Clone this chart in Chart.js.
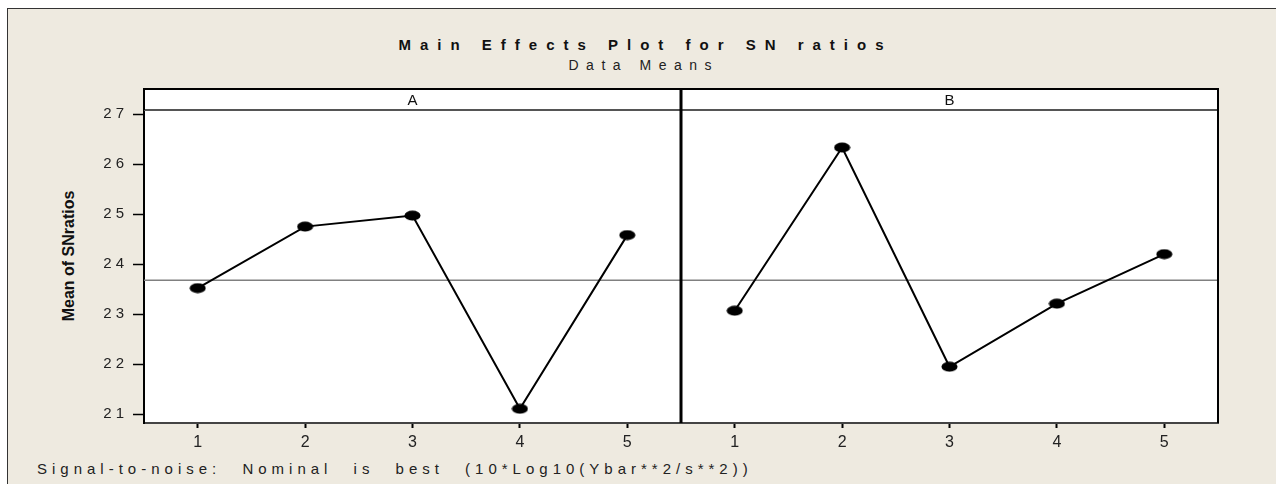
<!DOCTYPE html>
<html lang="en">
  <head>
    <title>Main Effects Plot for SN ratios</title>
    <meta charset="utf-8" />
    <script src="https://cdn.jsdelivr.net/npm/chart.js"></script>
    <style>
      body {
        margin: 0;
        width: 1276px;
        height: 484px;
        overflow: hidden;
        position: relative;
        background: #fff;
        font-family: "Liberation Sans", Arial, sans-serif;
        color: #111;
      }
      .frame {
        position: absolute;
        left: 7px;
        top: 8px;
        width: 1300px;
        height: 500px;
        background: #eeeae0;
        border: 1px solid #333;
      }
      #chart {
        position: absolute;
        left: 0;
        top: 0;
      }
      .title {
        position: absolute;
        left: 641px;
        top: 37px;
        transform: translateX(-50%);
        font-size: 15px;
        line-height: 15px;
        font-weight: bold;
        letter-spacing: 9px;
        padding-left: 9px;
        white-space: nowrap;
      }
      .subtitle {
        position: absolute;
        left: 640px;
        top: 58px;
        transform: translateX(-50%);
        font-size: 14px;
        line-height: 14px;
        letter-spacing: 7.5px;
        padding-left: 7.5px;
        white-space: nowrap;
        color: #222;
      }
      .ytitle {
        position: absolute;
        left: 69px;
        top: 256px;
        transform: translate(-50%, -50%) rotate(-90deg);
        font-size: 16px;
        line-height: 16px;
        font-weight: bold;
        white-space: nowrap;
      }
      .footer {
        position: absolute;
        left: 37px;
        top: 461px;
        font-size: 15px;
        line-height: 15px;
        letter-spacing: 5px;
        word-spacing: 12px;
        white-space: nowrap;
        color: #222;
      }
    </style>
  </head>
  <body>
    <div class="frame"></div>
    <div class="title">Main Effects Plot for SN ratios</div>
    <div class="subtitle">Data Means</div>
    <div class="ytitle">Mean of SNratios</div>
    <div class="footer">Signal-to-noise: Nominal is best (10*Log10(Ybar**2/s**2))</div>
    <canvas id="chart" width="1276" height="484"></canvas>

    <script>
      // factor levels and mean SN ratio per level
      const levels = [1, 2, 3, 4, 5];
      const meansA = [23.52, 24.75, 24.97, 21.11, 24.58];
      const meansB = [23.07, 26.33, 21.95, 23.21, 24.2];
      const grandMean = 23.68;
      const factors = ["A", "B"];
      const yTicks = [21, 22, 23, 24, 25, 26, 27];

      const stripHeight = 21;
      const font = "'Liberation Sans', Arial, sans-serif";

      // black ellipse marker
      const dot = document.createElement("canvas");
      dot.width = 17;
      dot.height = 11;
      const dctx = dot.getContext("2d");
      dctx.fillStyle = "#000";
      dctx.beginPath();
      dctx.ellipse(8.5, 5.5, 8, 5, 0, 0, Math.PI * 2);
      dctx.fill();

      const panels = {
        id: "panels",
        beforeDraw(chart) {
          const { ctx, chartArea: a } = chart;
          ctx.save();
          ctx.fillStyle = "#fff";
          ctx.fillRect(a.left, a.top - stripHeight, a.right - a.left, a.bottom - a.top + stripHeight);
          ctx.restore();
        },
        beforeDatasetsDraw(chart) {
          const { ctx, chartArea: a } = chart;
          const y = chart.scales.y.getPixelForValue(grandMean);
          ctx.save();
          ctx.strokeStyle = "#808080";
          ctx.lineWidth = 1.5;
          ctx.beginPath();
          ctx.moveTo(a.left, y);
          ctx.lineTo(a.right, y);
          ctx.stroke();
          ctx.restore();
        },
        afterDraw(chart) {
          const { ctx, chartArea: a } = chart;
          const top = a.top - stripHeight;
          const xA = chart.scales.xA;
          ctx.save();
          // strip bottom
          ctx.strokeStyle = "#555";
          ctx.lineWidth = 2;
          ctx.beginPath();
          ctx.moveTo(a.left, a.top);
          ctx.lineTo(a.right, a.top);
          ctx.stroke();
          // outer borders + divider
          ctx.strokeStyle = "#000";
          ctx.lineWidth = 2;
          ctx.beginPath();
          ctx.moveTo(a.left, a.top);
          ctx.lineTo(a.left, top);
          ctx.lineTo(a.right, top);
          ctx.lineTo(a.right, a.bottom);
          ctx.stroke();
          ctx.lineWidth = 3;
          ctx.beginPath();
          ctx.moveTo(xA.right, top);
          ctx.lineTo(xA.right, a.bottom);
          ctx.stroke();
          // strip labels
          ctx.fillStyle = "#111";
          ctx.font = "15px " + font;
          ctx.textAlign = "center";
          ctx.textBaseline = "middle";
          ["xA", "xB"].forEach((id, i) => {
            const s = chart.scales[id];
            ctx.fillText(factors[i], (s.left + s.right) / 2, top + stripHeight / 2 + 1);
          });
          ctx.restore();
        },
      };

      function xScale() {
        return {
          type: "linear",
          position: "bottom",
          stack: "panels",
          stackWeight: 1,
          min: 0.5,
          max: 5.5,
          afterBuildTicks: (s) => {
            s.ticks = levels.map((v) => ({ value: v }));
          },
          afterFit: (s) => {
            s.height = 61;
          },
          grid: {
            drawOnChartArea: false,
            tickLength: 5,
            tickColor: "#000",
            tickWidth: 2,
          },
          border: { display: true, color: "#444", width: 2 },
          ticks: {
            color: "#222",
            padding: 5,
            maxRotation: 0,
            font: { family: font, size: 16 },
          },
        };
      }

      new Chart(document.getElementById("chart"), {
        type: "line",
        data: {
          datasets: [
            {
              label: factors[0],
              data: levels.map((l, i) => ({ x: l, y: meansA[i] })),
              xAxisID: "xA",
              yAxisID: "y",
            },
            {
              label: factors[1],
              data: levels.map((l, i) => ({ x: l, y: meansB[i] })),
              xAxisID: "xB",
              yAxisID: "y",
            },
          ],
        },
        options: {
          responsive: false,
          animation: false,
          devicePixelRatio: 1,
          layout: { padding: { top: 110, right: 58, left: 0, bottom: 0 } },
          elements: {
            line: { borderColor: "#000", borderWidth: 2, tension: 0 },
            point: { pointStyle: dot, radius: 6, backgroundColor: "#000", borderColor: "#000" },
          },
          plugins: {
            legend: { display: false },
            tooltip: { enabled: false },
          },
          scales: {
            xA: xScale(),
            xB: xScale(),
            y: {
              type: "linear",
              position: "left",
              min: 20.826,
              max: 27.08,
              afterBuildTicks: (s) => {
                s.ticks = yTicks.map((v) => ({ value: v }));
              },
              afterFit: (s) => {
                s.width = 144;
              },
              grid: {
                drawOnChartArea: false,
                tickLength: 11,
                tickColor: "#000",
                tickWidth: 1.5,
              },
              border: { display: true, color: "#000", width: 2 },
              ticks: {
                color: "#222",
                padding: 9,
                font: { family: font, size: 15 },
                callback: (v) => String(v).split("").join(" "),
              },
            },
          },
        },
        plugins: [panels],
      });
    </script>
  </body>
</html>
